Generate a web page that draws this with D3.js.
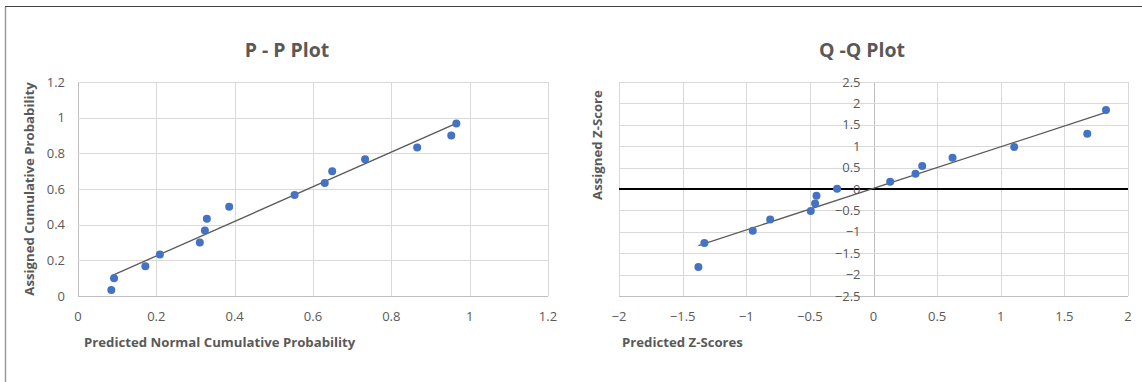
<!DOCTYPE html>
<html>
<head>
<meta charset="utf-8">
<script src="https://cdn.jsdelivr.net/npm/d3@7"></script>
<style>
  body { margin: 0; background: #fff; }
  svg { display: block; font-family: "Open Sans", "Noto Sans", sans-serif; }
  .tick-label { font-size: 13px; fill: #595959; }
  .chart-title { font-size: 19.5px; font-weight: 700; fill: #595959; }
  .axis-title { font-size: 13.2px; font-weight: 700; fill: #595959; }
</style>
</head>
<body>
<div id="chart"></div>
<script>
/* Two Excel-style scatter charts side by side: P-P plot and Q-Q plot,
   each with a linear trendline fitted to its points. */

// P - P plot values
const ppPredicted = [0.085, 0.092, 0.172, 0.209, 0.311, 0.324, 0.329, 0.386,
                     0.553, 0.630, 0.649, 0.733, 0.866, 0.953, 0.966];
const ppAssigned  = [0.033, 0.100, 0.167, 0.233, 0.300, 0.367, 0.433, 0.500,
                     0.567, 0.633, 0.700, 0.767, 0.833, 0.900, 0.967];
const ppXTicks = [0, 0.2, 0.4, 0.6, 0.8, 1, 1.2];
const ppYTicks = [0, 0.2, 0.4, 0.6, 0.8, 1, 1.2];

// Q - Q plot values
const qqPredicted = [-1.376, -1.329, -0.949, -0.812, -0.493, -0.459, -0.448, -0.286,
                     0.131, 0.330, 0.383, 0.621, 1.106, 1.680, 1.827];
const qqAssigned  = [-1.822, -1.262, -0.974, -0.710, -0.514, -0.336, -0.157, 0.007,
                     0.171, 0.357, 0.537, 0.731, 0.981, 1.292, 1.846];
const qqXTicks = [-2, -1.5, -1, -0.5, 0, 0.5, 1, 1.5, 2];
const qqYTicks = [-2.5, -2, -1.5, -1, -0.5, 0, 0.5, 1, 1.5, 2, 2.5];

const W = 1142, H = 382;
const DOT = "#4472c4", GRID = "#d9d9d9", TEXT = "#595959";

const svg = d3.select("#chart").append("svg")
    .attr("width", W).attr("height", H);

// frame of the pasted picture: dark top rule, grey left rule
svg.append("line").attr("x1", 5).attr("x2", W).attr("y1", 6.5).attr("y2", 6.5)
    .attr("stroke", "#444").attr("stroke-width", 1.2);
svg.append("line").attr("x1", 5.5).attr("x2", 5.5).attr("y1", 7).attr("y2", H)
    .attr("stroke", "#9a9a9a").attr("stroke-width", 1.5);

// least squares fit, like Excel's linear trendline
function fitLine(xs, ys){
  const mx = d3.mean(xs), my = d3.mean(ys);
  const sxy = d3.sum(xs, (x, i) => (x - mx) * (ys[i] - my));
  const sxx = d3.sum(xs, x => (x - mx) * (x - mx));
  const slope = sxy / sxx;
  return { slope, intercept: my - slope * mx };
}

function drawPanel(p){
  const g = svg.append("g");
  const x = d3.scaleLinear().domain(d3.extent(p.xTicks)).range([p.left, p.right]);
  const y = d3.scaleLinear().domain(d3.extent(p.yTicks)).range([p.bottom, p.top]);

  // grid
  g.append("g").selectAll("line").data(p.xTicks).join("line")
      .attr("x1", d => Math.round(x(d)) + 0.5).attr("x2", d => Math.round(x(d)) + 0.5)
      .attr("y1", p.top).attr("y2", p.bottom)
      .attr("stroke", d => d === p.yAxisAt ? "#bfbfbf" : GRID).attr("stroke-width", 1);
  g.append("g").selectAll("line").data(p.yTicks).join("line")
      .attr("x1", p.left).attr("x2", p.right)
      .attr("y1", d => Math.round(y(d)) + 0.5).attr("y2", d => Math.round(y(d)) + 0.5)
      .attr("stroke", d => d === p.yTicks[0] ? "#bfbfbf" : GRID).attr("stroke-width", 1);

  // black zero line on the Q-Q plot
  if (p.zeroLine){
    g.append("line").attr("x1", p.left).attr("x2", p.right)
        .attr("y1", y(0)).attr("y2", y(0))
        .attr("stroke", "#000").attr("stroke-width", 2);
  }

  // tick labels
  const xAxisY = p.bottom + 25;
  g.append("g").selectAll("text").data(p.xTicks).join("text")
      .attr("class", "tick-label")
      .attr("x", d => x(d)).attr("y", xAxisY)
      .attr("text-anchor", "middle")
      .text(d => d3.format("")(d));
  const yLabelX = x(p.yAxisAt) - 13;
  g.append("g").selectAll("text").data(p.yTicks).join("text")
      .attr("class", "tick-label")
      .attr("x", yLabelX).attr("y", d => y(d)).attr("dy", "0.35em")
      .attr("text-anchor", "end")
      .text(d => d3.format("")(d));

  // trendline from smallest to largest x
  const fit = fitLine(p.xs, p.ys);
  const [x0, x1] = d3.extent(p.xs);
  g.append("line")
      .attr("x1", x(x0)).attr("y1", y(fit.intercept + fit.slope * x0))
      .attr("x2", x(x1)).attr("y2", y(fit.intercept + fit.slope * x1))
      .attr("stroke", TEXT).attr("stroke-width", 1.3);

  // points
  g.append("g").selectAll("circle").data(p.xs).join("circle")
      .attr("cx", d => x(d)).attr("cy", (d, i) => y(p.ys[i]))
      .attr("r", 4).attr("fill", DOT);

  // titles
  g.append("text").attr("class", "chart-title")
      .attr("x", p.titleX).attr("y", 57).attr("text-anchor", "middle")
      .text(p.title);
  g.append("text").attr("class", "axis-title")
      .attr("x", p.xTitleX).attr("y", 347)
      .text(p.xTitle);
  g.append("text").attr("class", "axis-title")
      .attr("transform", `translate(${p.yTitleX}, ${p.yTitleY}) rotate(-90)`)
      .attr("text-anchor", "middle")
      .text(p.yTitle);
}

drawPanel({
  xs: ppPredicted, ys: ppAssigned, xTicks: ppXTicks, yTicks: ppYTicks,
  left: 78, right: 548, top: 82, bottom: 296, yAxisAt: 0, zeroLine: false,
  title: "P - P Plot", titleX: 287,
  xTitle: "Predicted Normal Cumulative Probability", xTitleX: 84,
  yTitle: "Assigned Cumulative Probability", yTitleX: 34, yTitleY: 189
});

drawPanel({
  xs: qqPredicted, ys: qqAssigned, xTicks: qqXTicks, yTicks: qqYTicks,
  left: 619, right: 1128, top: 82, bottom: 296, yAxisAt: 0, zeroLine: true,
  title: "Q -Q Plot", titleX: 862,
  xTitle: "Predicted Z-Scores", xTitleX: 622,
  yTitle: "Assigned Z-Score", yTitleX: 602, yTitleY: 145
});
</script>
</body>
</html>
